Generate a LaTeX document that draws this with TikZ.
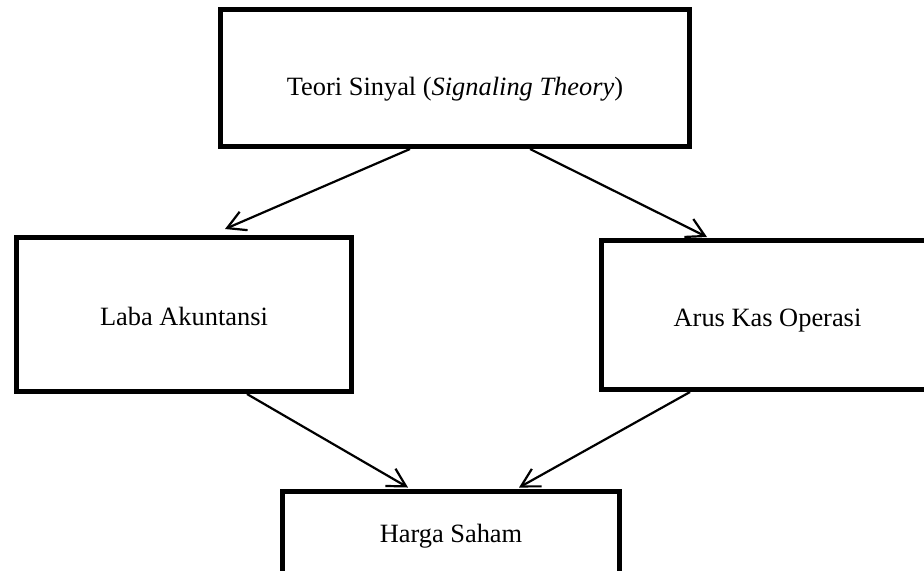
\documentclass[tikz,border=0pt]{standalone}
\usepackage{fontspec}
\setmainfont{Liberation Serif}
\usetikzlibrary{arrows.meta}
\usetikzlibrary{positioning}

\begin{document}
\begin{tikzpicture}[
  x=0.5pt, y=-0.5pt,
  kotak/.style={draw, line width=2.5pt, inner sep=+0pt, text depth=0pt, font=\fontsize{13.2}{16}\selectfont},
  panah/.style={line width=1.1pt, -{Straight Barb[length=9pt,width=10pt,line width=1.1pt]}}
]
\useasboundingbox (0,0) rectangle (924,570);

\node[kotak, text height=17.3pt, minimum width=234.5pt, minimum height=68.5pt] (teori) at (455,78) {Teori Sinyal (\textit{Signaling Theory})};

\node[kotak, text height=10.8pt, minimum width=167.5pt, minimum height=77pt] (laba) at (184,314.5) {Laba Akuntansi};
\node[kotak, text height=11.3pt, minimum width=166pt, minimum height=74.5pt] (arus) at (767.5,315) {Arus Kas Operasi};

\node[kotak, text height=8.3pt, minimum width=168.5pt, minimum height=43pt] (harga) at (451,534) {Harga Saham};

\draw[panah] ([xshift=-22.5pt]teori.south) -- ([xshift=20.5pt,yshift=3pt]laba.north);
\draw[panah] ([xshift=37.5pt]teori.south) -- ([xshift=-30.25pt,yshift=0.5pt]arus.north);
\draw[panah] ([xshift=31.5pt]laba.south) -- ([xshift=-21.5pt,yshift=0.5pt]harga.north);
\draw[panah] ([xshift=-38.75pt]arus.south) -- ([xshift=34pt,yshift=0.5pt]harga.north);

\end{tikzpicture}
\end{document}
